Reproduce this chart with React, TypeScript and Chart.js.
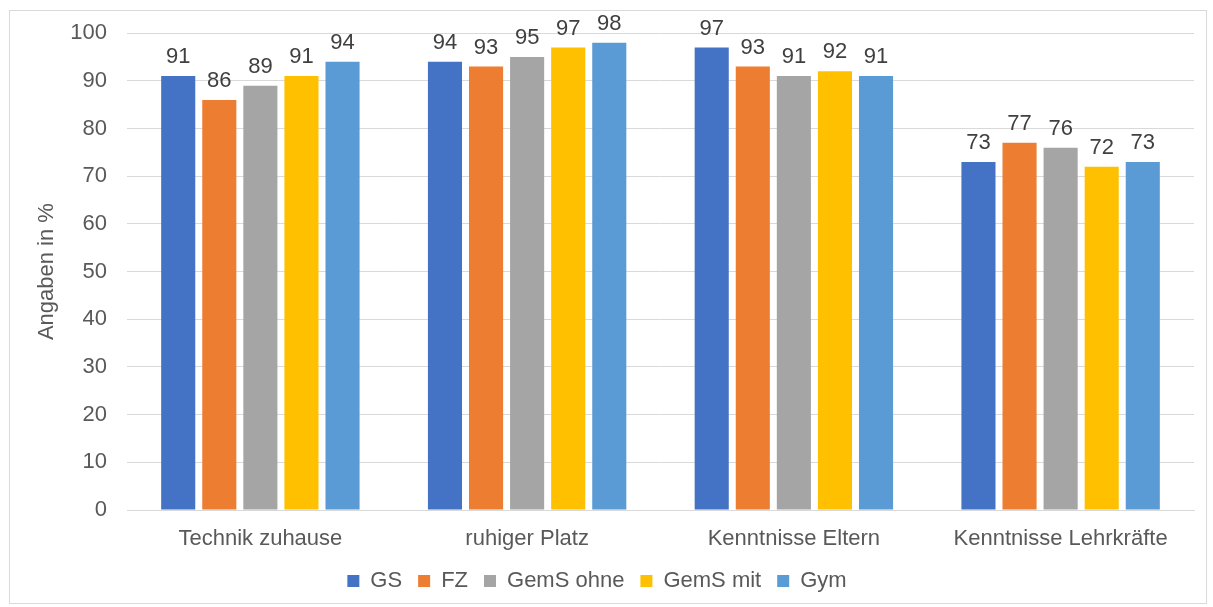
import { useEffect, useRef } from "react";
import { Chart, registerables } from "chart.js";

Chart.register(...registerables);

const CATEGORIES = [
  "Technik zuhause",
  "ruhiger Platz",
  "Kenntnisse Eltern",
  "Kenntnisse Lehrkräfte",
];
const SERIES_NAMES = ["GS", "FZ", "GemS ohne", "GemS mit", "Gym"];
const GS = [91, 94, 97, 73];
const FZ = [86, 93, 93, 77];
const GEMS_OHNE = [89, 95, 91, 76];
const GEMS_MIT = [91, 97, 92, 72];
const GYM = [94, 98, 91, 73];
const COLORS = ["#4472C4", "#ED7D31", "#A5A5A5", "#FFC000", "#5B9BD5"];

const FONT = "'Liberation Sans', Arial, sans-serif";
const FONT_SIZE = 22;

// draws value labels over each bar
const valueLabels = {
  id: "valueLabels",
  afterDatasetsDraw(chart: Chart) {
    const ctx = chart.ctx;
    ctx.save();
    ctx.font = `${FONT_SIZE}px ${FONT}`;
    ctx.fillStyle = "#404040";
    ctx.textAlign = "center";
    ctx.textBaseline = "alphabetic";
    chart.data.datasets.forEach((ds, i) => {
      const meta = chart.getDatasetMeta(i);
      meta.data.forEach((bar: any, j: number) => {
        ctx.fillText(String(ds.data[j]), bar.x, bar.y - 13);
      });
    });
    ctx.restore();
  },
};

export default function App() {
  const canvasRef = useRef<HTMLCanvasElement | null>(null);
  const chartRef = useRef<Chart | null>(null);

  useEffect(() => {
    document.body.style.margin = "0";
    if (!canvasRef.current) return;
    const series = [GS, FZ, GEMS_OHNE, GEMS_MIT, GYM];

    chartRef.current = new Chart(canvasRef.current, {
      type: "bar",
      data: {
        labels: CATEGORIES,
        datasets: series.map((values, i) => ({
          label: SERIES_NAMES[i],
          data: values,
          backgroundColor: COLORS[i],
          categoryPercentage: 0.77,
          barPercentage: 0.83,
        })),
      },
      options: {
        animation: false,
        responsive: false,
        layout: { padding: { top: 33, right: 19, left: 0, bottom: 5 } },
        plugins: {
          legend: {
            position: "bottom",
            labels: {
              font: { family: FONT, size: FONT_SIZE },
              color: "#595959",
              boxWidth: 12,
              boxHeight: 12,
              padding: 16,
            },
          },
          tooltip: { enabled: false },
        },
        scales: {
          x: {
            grid: { display: false },
            border: { color: "#d9d9d9" },
            ticks: {
              font: { family: FONT, size: FONT_SIZE },
              color: "#595959",
              padding: 8,
            },
            afterFit: (scale: any) => {
              scale.height = 44;
            },
          },
          y: {
            min: 0,
            max: 100,
            ticks: {
              stepSize: 10,
              font: { family: FONT, size: FONT_SIZE },
              color: "#595959",
              padding: 20,
            },
            grid: { color: "#d9d9d9", drawTicks: false },
            border: { display: false },
            title: {
              display: true,
              text: "Angaben in %",
              font: { family: FONT, size: FONT_SIZE },
              color: "#595959",
              padding: { top: 34, bottom: 0 },
            },
            afterFit: (scale: any) => {
              scale.width = 127;
            },
          },
        },
      },
      plugins: [valueLabels],
    });

    return () => {
      if (chartRef.current) {
        chartRef.current.destroy();
        chartRef.current = null;
      }
    };
  }, []);

  return (
    <div style={{ position: "relative", width: 1213, height: 607, background: "#fff" }}>
      <div
        style={{
          position: "absolute",
          left: 9,
          top: 10,
          width: 1196,
          height: 592,
          border: "1px solid #d9d9d9",
        }}
      />
      <canvas
        ref={canvasRef}
        width={1213}
        height={607}
        style={{ position: "absolute", left: 0, top: 0 }}
      />
    </div>
  );
}
